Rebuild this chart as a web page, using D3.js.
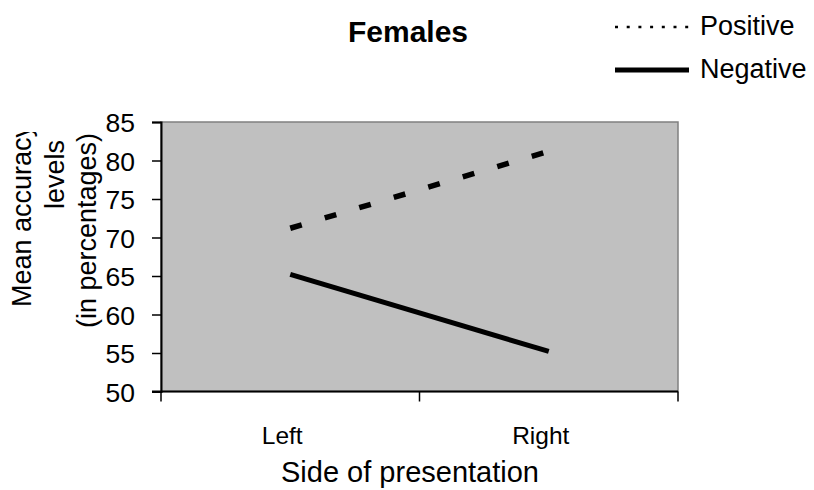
<!DOCTYPE html>
<html>
<head>
<meta charset="utf-8">
<script src="https://cdn.jsdelivr.net/npm/d3@7"></script>
<style>
  body { margin: 0; background: #fff; }
  svg text { font-family: "Liberation Sans", Arial, sans-serif; fill: #000; }
</style>
</head>
<body>
<script>
// chart data
let sides = ['Left', 'Right']
let positive = [71.2, 81.2]
let negative = [65.2, 55.2]
let yTicks = [50, 55, 60, 65, 70, 75, 80, 85]
let seriesNames = ['Positive', 'Negative']
let yTitleLines = ['Mean accuracy', 'levels', '(in percentages)']

// measurements for the plot
let m = {
  width: 814,
  height: 490,
  left: 161,
  right: 678,
  top: 122,
  bottom: 391.5,
}

let svg = d3.select('body')
  .append('svg')
  .attr('width', m.width)
  .attr('height', m.height)

let xScale = d3.scaleBand()
  .domain(sides)
  .range([m.left, m.right])

let yScale = d3.scaleLinear()
  .domain([50, 85])
  .range([m.bottom, m.top])

// plot area background
svg.append('rect')
  .attr('x', m.left)
  .attr('y', m.top)
  .attr('width', m.right - m.left)
  .attr('height', m.bottom - m.top)
  .attr('fill', '#c0c0c0')
  .attr('stroke', '#808080')
  .attr('stroke-width', 1.5)

// y axis
let yAxis = svg.append('g')
  .attr('transform', 'translate(' + m.left + ',0)')
  .call(d3.axisLeft(yScale).tickValues(yTicks).tickSize(9).tickPadding(17))
yAxis.select('.domain').attr('stroke', '#000').attr('stroke-width', 2)
yAxis.selectAll('.tick line').attr('stroke', '#000').attr('stroke-width', 1.5)
yAxis.selectAll('.tick text')
  .attr('font-size', 26.5)
  .attr('font-family', '"Liberation Sans", Arial, sans-serif')
  .attr('dy', '0.37em')

// x axis, ticks on the category boundaries
let xAxis = svg.append('g')
  .attr('transform', 'translate(0,' + m.bottom + ')')
xAxis.append('line')
  .attr('x1', m.left - 9).attr('x2', m.right)
  .attr('stroke', '#000').attr('stroke-width', 2)
let boundaries = sides.map(function(d) { return xScale(d) }).concat([m.right])
xAxis.selectAll('.xtick')
  .data(boundaries)
  .enter()
  .append('line')
    .attr('x1', function(d) { return d })
    .attr('x2', function(d) { return d })
    .attr('y1', 0)
    .attr('y2', 10)
    .attr('stroke', '#000')
    .attr('stroke-width', 1.5)
xAxis.selectAll('.xlabel')
  .data(sides)
  .enter()
  .append('text')
    .attr('x', function(d) { return xScale(d) + xScale.bandwidth() / 2 - 8 })
    .attr('y', 52)
    .attr('text-anchor', 'middle')
    .attr('font-size', 24.5)
    .text(function(d) { return d })

// lines
let line = d3.line()
  .x(function(d, i) { return xScale(sides[i]) + xScale.bandwidth() / 2 })
  .y(function(d) { return yScale(d) })

svg.append('path')
  .datum(positive)
  .attr('d', line)
  .attr('fill', 'none')
  .attr('stroke', '#000')
  .attr('stroke-width', 5.5)
  .attr('stroke-dasharray', '12,24')

svg.append('path')
  .datum(negative)
  .attr('d', line)
  .attr('fill', 'none')
  .attr('stroke', '#000')
  .attr('stroke-width', 5)

// titles
svg.append('text')
  .attr('x', 408)
  .attr('y', 42)
  .attr('text-anchor', 'middle')
  .attr('font-size', 30)
  .attr('font-weight', 'bold')
  .text('Females')

svg.append('text')
  .attr('x', 410)
  .attr('y', 482)
  .attr('text-anchor', 'middle')
  .attr('font-size', 29)
  .text('Side of presentation')

// y axis title, first line is cut off at the top like the original
svg.append('clipPath')
  .attr('id', 'yclip')
  .append('rect')
    .attr('x', 0).attr('y', 132).attr('width', 120).attr('height', 300)

let yTitle = [
  { x: 31, y: 307, anchor: 'start' },
  { x: 64, y: 140, anchor: 'end' },
  { x: 96, y: 133, anchor: 'end' },
]
svg.append('g')
  .attr('clip-path', 'url(#yclip)')
  .selectAll('text')
  .data(yTitleLines)
  .enter()
  .append('text')
    .attr('transform', function(d, i) { return 'translate(' + yTitle[i].x + ',' + yTitle[i].y + ') rotate(-90)' })
    .attr('text-anchor', function(d, i) { return yTitle[i].anchor })
    .attr('font-size', 27)
    .text(function(d) { return d })

// legend
let legendStyles = [
  { y: 27, width: 2.5, dash: '3,8.7' },
  { y: 70, width: 5, dash: null },
]
let legend = svg.selectAll('.legend')
  .data(seriesNames)
  .enter()
  .append('g')
    .attr('transform', function(d, i) { return 'translate(615,' + legendStyles[i].y + ')' })

legend.append('line')
  .attr('x1', 0).attr('x2', 74)
  .attr('stroke', '#000')
  .attr('stroke-width', function(d, i) { return legendStyles[i].width })
  .attr('stroke-dasharray', function(d, i) { return legendStyles[i].dash })

legend.append('text')
  .attr('x', 85)
  .attr('y', 8)
  .attr('font-size', 27)
  .text(function(d) { return d })
</script>
</body>
</html>
